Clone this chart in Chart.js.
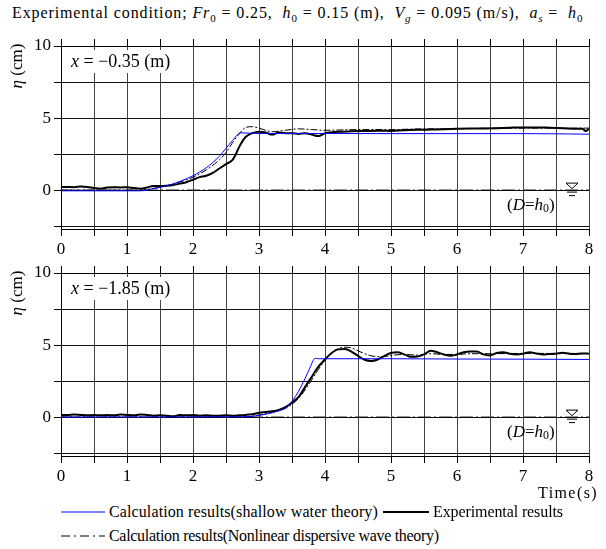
<!DOCTYPE html>
<html>
<head>
<meta charset="utf-8">
<script src="https://cdn.jsdelivr.net/npm/chart.js@4.4.0/dist/chart.umd.min.js"></script>
<style>
  body { margin: 0; background: #fff; }
  #wrap { position: relative; width: 606px; height: 549px; font-family: "Liberation Serif", "Times New Roman", serif; color: #000; }
  #title { position: absolute; left: 12px; top: 4px; font-size: 16px; white-space: nowrap; }
  #title sub { font-size: 11px; }
  canvas { position: absolute; left: 0; }
  #c1 { top: 30px; }
  #c2 { top: 257px; }
  #timeLabel { position: absolute; left: 538px; top: 484px; font-size: 16px; white-space: nowrap; }
  .leg { position: absolute; font-size: 16px; white-space: nowrap; display: flex; align-items: center; }
  .leg svg { margin-right: 4px; }
</style>
</head>
<body>
<div id="wrap">
  <div id="title"><span class="fit" data-w="571">Experimental condition; <i>Fr</i><sub>0</sub> = 0.25,&nbsp; <i>h</i><sub>0</sub> = 0.15 (m),&nbsp; <i>V<sub>g</sub></i> = 0.095 (m/s),&nbsp; <i>a<sub>s</sub></i> = &nbsp;<i>h</i><sub>0</sub></span></div>
  <canvas id="c1" width="606" height="230"></canvas>
  <canvas id="c2" width="606" height="230"></canvas>
  <div id="timeLabel"><span class="fit" data-w="60">Time(s)</span></div>
  <div class="leg" style="left:61px; top:503px;">
    <svg width="44" height="6"><line x1="0" y1="3" x2="44" y2="3" stroke="#0000ff" stroke-width="1"/></svg><span class="fit" data-w="269">Calculation results(shallow water theory)</span>
  </div>
  <div class="leg" style="left:383px; top:503px;">
    <svg width="46" height="6"><line x1="0" y1="3" x2="46" y2="3" stroke="#000" stroke-width="2"/></svg><span class="fit" data-w="130">Experimental results</span>
  </div>
  <div class="leg" style="left:61px; top:527px;">
    <svg width="44" height="6"><line x1="0" y1="3" x2="44" y2="3" stroke="#000" stroke-width="1" stroke-dasharray="9 4 2 4"/></svg><span class="fit" data-w="330">Calculation results(Nonlinear dispersive wave theory)</span>
  </div>
</div>

<script>
const FONT = '"Liberation Serif", "Times New Roman", serif';

// оси
const xTicks = [0, 0.5, 1, 1.5, 2, 2.5, 3, 3.5, 4, 4.5, 5, 5.5, 6, 6.5, 7, 7.5, 8];
const yTicks = [-2.5, 0, 2.5, 5, 7.5, 10];
const yLabels = [0, 5, 10];

// уровень покоя
const levelTime = [0, 8];
const levelValue = [0, 0];

// x = -0.35 m
const topShallowTime = [0, 1.2, 1.4, 1.6, 1.8, 2.0, 2.2, 2.4, 2.5, 2.6, 2.72, 3.0, 4, 5, 6, 7, 8];
const topShallow = [-0.05, -0.05, 0.1, 0.3, 0.6, 1.0, 1.55, 2.35, 2.9, 3.45, 3.97, 3.93, 3.93, 3.92, 3.92, 3.92, 3.88];

const topDispTime = [0, 1.2, 1.4, 1.6, 1.8, 2.0, 2.2, 2.4, 2.5, 2.6, 2.7, 2.8, 2.9, 3.0, 3.1, 3.2, 3.4, 3.6, 3.8, 4.0, 4.5, 5, 5.5, 6, 6.5, 7, 7.5, 8];
const topDisp = [0, 0, 0.12, 0.3, 0.55, 0.9, 1.4, 2.1, 2.6, 3.3, 3.9, 4.35, 4.4, 4.3, 4.15, 4.05, 4.15, 4.25, 4.2, 4.15, 4.2, 4.2, 4.25, 4.25, 4.3, 4.3, 4.3, 4.3];

const topExpTime = [0, 0.1, 0.2, 0.3, 0.4, 0.5, 0.6, 0.7, 0.8, 0.9, 1.0, 1.1, 1.2, 1.3, 1.4, 1.5, 1.6, 1.7, 1.8, 1.9,
  2.0, 2.1, 2.2, 2.3, 2.4, 2.5, 2.6, 2.65, 2.7, 2.75, 2.8, 2.9, 3.0, 3.1, 3.2, 3.3, 3.4, 3.5, 3.6, 3.7, 3.8, 3.9,
  4.0, 4.2, 4.4, 4.6, 4.8, 5.0, 5.2, 5.4, 5.6, 5.8, 6.0, 6.2, 6.4, 6.6, 6.8, 7.0, 7.2, 7.4, 7.6, 7.8, 7.9, 7.95, 8.0];
const topExp = [0.2, 0.22, 0.2, 0.25, 0.22, 0.15, 0.1, 0.18, 0.2, 0.18, 0.2, 0.15, 0.1, 0.18, 0.28, 0.28, 0.3, 0.35, 0.45, 0.55,
  0.72, 0.9, 1.0, 1.2, 1.5, 1.8, 2.1, 2.5, 3.0, 3.4, 3.7, 3.95, 4.05, 4.0, 3.85, 4.0, 3.95, 3.95, 3.9, 3.95, 3.85, 3.75,
  3.95, 4.05, 4.08, 4.1, 4.12, 4.1, 4.15, 4.18, 4.2, 4.22, 4.25, 4.27, 4.28, 4.3, 4.33, 4.35, 4.35, 4.33, 4.3, 4.25, 4.25, 4.1, 4.25];

// x = -1.85 m
const botShallowTime = [0, 2.8, 3.0, 3.2, 3.4, 3.5, 3.6, 3.7, 3.77, 3.85, 3.9, 4.5, 5, 6, 7, 8];
const botShallow = [0.0, 0.02, 0.12, 0.3, 0.65, 1.1, 1.8, 2.7, 3.4, 4.08, 4.05, 4.05, 4.05, 4.03, 4.02, 4.0];

const botDispTime = [0, 2.8, 3.0, 3.2, 3.4, 3.5, 3.6, 3.7, 3.8, 3.9, 4.0, 4.1, 4.2, 4.3, 4.4, 4.5, 4.6, 4.7, 4.8, 4.9, 5.0, 5.2, 5.4, 5.6, 5.8, 6.0, 6.2, 6.5, 7, 7.5, 8];
const botDisp = [0, 0.02, 0.15, 0.35, 0.6, 0.9, 1.3, 1.9, 2.6, 3.3, 3.95, 4.45, 4.75, 4.85, 4.8, 4.6, 4.4, 4.25, 4.2, 4.2, 4.28, 4.35, 4.3, 4.4, 4.35, 4.35, 4.4, 4.4, 4.42, 4.42, 4.42];

const botExpTime = [0, 0.1, 0.2, 0.3, 0.4, 0.5, 0.6, 0.7, 0.8, 0.9, 1.0, 1.1, 1.2, 1.3, 1.4, 1.5, 1.6, 1.7, 1.8, 1.9,
  2.0, 2.1, 2.2, 2.3, 2.4, 2.5, 2.6, 2.7, 2.8, 2.9, 3.0, 3.1, 3.2, 3.3, 3.4, 3.5, 3.6, 3.7, 3.8, 3.9,
  4.0, 4.1, 4.2, 4.3, 4.4, 4.5, 4.6, 4.7, 4.8, 4.9, 5.0, 5.1, 5.2, 5.3, 5.4, 5.5, 5.6, 5.7, 5.8, 5.9,
  6.0, 6.1, 6.2, 6.3, 6.4, 6.5, 6.6, 6.7, 6.8, 6.9, 7.0, 7.1, 7.2, 7.3, 7.4, 7.5, 7.6, 7.7, 7.8, 7.9, 8.0];
const botExp = [0.15, 0.15, 0.18, 0.15, 0.12, 0.15, 0.12, 0.15, 0.12, 0.18, 0.15, 0.12, 0.18, 0.15, 0.1, 0.12, 0.1, 0.05, 0.15, 0.12,
  0.15, 0.1, 0.12, 0.1, 0.1, 0.12, 0.1, 0.12, 0.15, 0.2, 0.3, 0.35, 0.4, 0.5, 0.7, 1.0, 1.4, 2.1, 2.8, 3.5,
  4.0, 4.45, 4.7, 4.72, 4.55, 4.25, 3.98, 3.9, 4.0, 4.25, 4.45, 4.5, 4.35, 4.18, 4.2, 4.35, 4.6, 4.5, 4.35, 4.25,
  4.35, 4.5, 4.55, 4.55, 4.35, 4.28, 4.45, 4.5, 4.4, 4.35, 4.4, 4.5, 4.42, 4.35, 4.38, 4.4, 4.47, 4.4, 4.38, 4.42, 4.4];

function toPoints(t, v) {
  return t.map((x, i) => ({ x: x, y: v[i] }));
}

// растягиваем подписи до ширины оригинала
document.querySelectorAll(".fit").forEach((el) => {
  const w = el.getBoundingClientRect().width;
  const n = el.textContent.length;
  el.style.letterSpacing = ((Number(el.dataset.w) - w) / n).toFixed(2) + "px";
});

// текст с курсивом и индексами
function drawRuns(ctx, runs, x, y, size, measureOnly) {
  let w = 0;
  runs.forEach((r) => {
    const s = r.sub ? size * 0.7 : size;
    ctx.font = (r.it ? "italic " : "") + s + "px " + FONT;
    if (!measureOnly) ctx.fillText(r.t, x + w, y + (r.sub ? size * 0.25 : 0));
    w += ctx.measureText(r.t).width;
  });
  return w;
}

const decorPlugin = {
  id: "decor",
  afterDraw(chart, args, opts) {
    const { ctx, chartArea: a, scales } = chart;
    const y0 = scales.y.getPixelForValue(0);
    ctx.save();
    ctx.textBaseline = "middle";

    // подпись положения
    ctx.fillStyle = "#fff";
    ctx.fillRect(a.left + 4, a.top + 4, 123, 23);
    ctx.fillStyle = "#000";
    drawRuns(ctx, [{ t: "x", it: true }, { t: " = \u2212" + opts.pos + " (m)" }], a.left + 10, a.top + 16, 18);

    // (D=h0)
    drawRuns(ctx, [{ t: "(" }, { t: "D", it: true }, { t: "=" }, { t: "h", it: true }, { t: "0", sub: true }, { t: ")" }],
      a.right - 82, y0 + 15, 17);

    // значок уровня воды
    const cx = a.right - 17;
    ctx.strokeStyle = "#000";
    ctx.lineWidth = 1;
    ctx.beginPath();
    ctx.moveTo(cx - 6, y0 - 7);
    ctx.lineTo(cx + 6, y0 - 7);
    ctx.lineTo(cx, y0 - 1.5);
    ctx.closePath();
    ctx.moveTo(cx - 5, y0 + 2);
    ctx.lineTo(cx + 5, y0 + 2);
    ctx.moveTo(cx - 3, y0 + 5.5);
    ctx.lineTo(cx + 3, y0 + 5.5);
    ctx.stroke();

    // подпись оси y
    ctx.translate(a.left - 43, a.top + 20);
    ctx.rotate(-Math.PI / 2);
    const runs = [{ t: "\u03b7", it: true }, { t: " (cm)" }];
    const w = drawRuns(ctx, runs, 0, 0, 17, true);
    drawRuns(ctx, runs, -w / 2, 0, 17);
    ctx.restore();
  },
};

function createChart(id, pos, shallow, exp, disp) {
  const ctx = document.getElementById(id).getContext("2d");
  return new Chart(ctx, {
    type: "line",
    data: {
      datasets: [
        { data: shallow, borderColor: "#0000ff", borderWidth: 1, order: 1, cubicInterpolationMode: "monotone" },
        { data: exp, borderColor: "#000", borderWidth: 2, order: 2, cubicInterpolationMode: "monotone" },
        { data: disp, borderColor: "#000", borderWidth: 1, borderDash: [7, 2, 2, 2], order: 3, cubicInterpolationMode: "monotone" },
        { data: toPoints(levelTime, levelValue), borderColor: "#000", borderWidth: 1, borderDash: [13, 3, 2, 3], order: 4 },
      ],
    },
    options: {
      responsive: false,
      animation: false,
      events: [],
      parsing: false,
      elements: { point: { radius: 0 } },
      layout: { padding: { top: 9, right: 17, left: 0, bottom: 0 } },
      plugins: { legend: { display: false }, tooltip: { enabled: false }, decor: { pos: pos } },
      scales: {
        x: {
          type: "linear",
          min: 0,
          max: 8,
          afterBuildTicks: (s) => { s.ticks = xTicks.map((v) => ({ value: v })); },
          afterFit: (s) => { s.height = 31; },
          ticks: {
            autoSkip: false,
            maxRotation: 0,
            padding: 3,
            color: "#000",
            font: { family: FONT, size: 17 },
            callback: (v) => (Number.isInteger(v) ? v : ""),
          },
          grid: { color: "#444", lineWidth: 1, tickLength: 7, tickColor: "#000" },
          border: { color: "#000", width: 1 },
        },
        x2: {
          type: "linear",
          axis: "x",
          position: "top",
          min: 0,
          max: 8,
          afterBuildTicks: (s) => { s.ticks = xTicks.map((v) => ({ value: v })); },
          afterFit: (s) => { s.height = 7; },
          ticks: { display: false },
          grid: { drawOnChartArea: false, tickLength: 7, tickColor: "#000" },
          border: { color: "#000", width: 1 },
        },
        y: {
          type: "linear",
          min: -2.7,
          max: 10,
          afterBuildTicks: (s) => { s.ticks = yTicks.map((v) => ({ value: v })); },
          afterFit: (s) => { s.width = 61; },
          ticks: {
            autoSkip: false,
            padding: 3,
            color: "#000",
            font: { family: FONT, size: 17 },
            callback: (v) => (yLabels.includes(v) ? v : ""),
          },
          grid: { color: "#111", lineWidth: 1, tickLength: 7, tickColor: "#000" },
          border: { color: "#000", width: 1 },
        },
      },
    },
    plugins: [decorPlugin],
  });
}

createChart("c1", "0.35",
  toPoints(topShallowTime, topShallow),
  toPoints(topExpTime, topExp),
  toPoints(topDispTime, topDisp));

createChart("c2", "1.85",
  toPoints(botShallowTime, botShallow),
  toPoints(botExpTime, botExp),
  toPoints(botDispTime, botDisp));
</script>
</body>
</html>
